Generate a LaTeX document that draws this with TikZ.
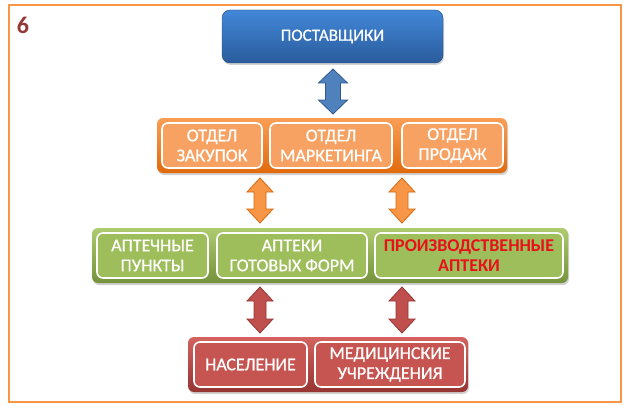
\documentclass[tikz,border=0pt]{standalone}
\usepackage{fontspec}
\setmainfont{Carlito}
\newfontfamily\boxfont{Carlito}[FakeBold=0.7]
\usetikzlibrary{shadows}
\definecolor{frameor}{HTML}{F79646}
\definecolor{numred}{HTML}{953735}
\definecolor{bluetop}{HTML}{4287D8}
\definecolor{bluebot}{HTML}{2A5C9C}
\definecolor{ortop}{HTML}{FA9E55}
\definecolor{orbot}{HTML}{E06A0C}
\definecolor{orin}{HTML}{F7A262}
\definecolor{grtop}{HTML}{AECB70}
\definecolor{grbot}{HTML}{76923C}
\definecolor{grin}{HTML}{9EBE5C}
\definecolor{rdtop}{HTML}{D4625E}
\definecolor{rdbot}{HTML}{963432}
\definecolor{rdin}{HTML}{C65552}
\definecolor{arblue}{HTML}{4F81BD}
\definecolor{arblueb}{HTML}{2E5A8E}
\definecolor{aror}{HTML}{F79646}
\definecolor{arorb}{HTML}{D8680E}
\definecolor{arrd}{HTML}{C0504D}
\definecolor{arrdb}{HTML}{943634}
\definecolor{hot}{HTML}{E8101A}
\newcommand{\dblblock}[6]{%
  \filldraw[#1] (#2,#3) -- ({#2+#5},{#3+14}) -- ({#2+#6},{#3+14}) -- ({#2+#6},{#4-14})
   -- ({#2+#5},{#4-14}) -- (#2,#4) -- ({#2-#5},{#4-14}) -- ({#2-#6},{#4-14})
   -- ({#2-#6},{#3+14}) -- ({#2-#5},{#3+14}) -- cycle;}
\begin{document}
\begin{tikzpicture}[x=1pt,y=-1pt,
  bar/.style={rectangle, rounded corners=6pt, draw=none, inner sep=0pt,
    drop shadow={opacity=0.35, shadow xshift=1pt, shadow yshift=-2pt}},
  inbox/.style={rectangle, rounded corners=6pt, draw=white, line width=1.6pt,
    inner sep=0pt, align=center, text=white, font=\boxfont\fontsize{18}{20}\selectfont},
  topbox/.style={rectangle, rounded corners=8pt, draw=bluebot!80!black, line width=0.4pt,
    top color=bluetop, bottom color=bluebot, inner sep=0pt, text=white,
    font=\boxfont\fontsize{17}{20}\selectfont,
    drop shadow={opacity=0.35, shadow xshift=1pt, shadow yshift=-2pt}}]
\useasboundingbox (0,0) rectangle (624,412);
\fill[white] (0,0) rectangle (624,412);
\draw[frameor, line width=2pt] (9,5) rectangle (621,402);
\node[text=numred, font=\fontsize{24}{24}\selectfont\bfseries, anchor=center] (num) at (23,25) {6};

% suppliers
\node[topbox, minimum width=221pt, minimum height=53pt] (sup) at (332.5,36.5) {ПОСТАВЩИКИ};

% orange row
\node[bar, top color=ortop, bottom color=orbot, minimum width=350pt, minimum height=55pt] (obar) at (332,145.5) {};
\node[inbox, fill=orin, minimum width=100pt, minimum height=45pt] (zak) at (212,145.5) {ОТДЕЛ\\ЗАКУПОК};
\node[inbox, fill=orin, minimum width=122pt, minimum height=45pt] (mar) at (331,145.5) {ОТДЕЛ\\МАРКЕТИНГА};
\node[inbox, fill=orin, minimum width=101pt, minimum height=45pt] (pro) at (452.5,145.5) {ОТДЕЛ\\ПРОДАЖ};

% green row
\node[bar, top color=grtop, bottom color=grbot, minimum width=476pt, minimum height=55pt] (gbar) at (330,255.5) {};
\node[inbox, fill=grin, minimum width=111pt, minimum height=45pt] (apt) at (152.5,255.5) {АПТЕЧНЫЕ\\ПУНКТЫ};
\node[inbox, fill=grin, minimum width=150pt, minimum height=45pt] (gf) at (292,255.5) {АПТЕКИ\\ГОТОВЫХ ФОРМ};
\node[inbox, fill=grin, minimum width=188pt, minimum height=45pt, text=hot,
  font=\fontsize{18}{20}\selectfont\bfseries] (prd) at (469,255.5) {ПРОИЗВОДСТВЕННЫЕ\\АПТЕКИ};

% red row
\node[bar, top color=rdtop, bottom color=rdbot, minimum width=280pt, minimum height=55pt] (rbar) at (328,364.5) {};
\node[inbox, fill=rdin, minimum width=113pt, minimum height=45pt] (nas) at (250.5,364.5) {НАСЕЛЕНИЕ};
\node[inbox, fill=rdin, minimum width=150pt, minimum height=45pt] (med) at (390,364.5) {МЕДИЦИНСКИЕ\\УЧРЕЖДЕНИЯ};

% block arrows
\dblblock{fill=arblue, draw=arblueb, line width=0.8pt}{333}{69}{114}{14.5}{7.5}
\dblblock{fill=aror, draw=arorb, line width=0.8pt}{260}{178}{223}{13}{6}
\dblblock{fill=aror, draw=arorb, line width=0.8pt}{402}{178}{223}{13}{6}
\dblblock{fill=arrd, draw=arrdb, line width=0.8pt}{260}{287}{333}{13}{6}
\dblblock{fill=arrd, draw=arrdb, line width=0.8pt}{402}{287}{333}{13}{6}
\end{tikzpicture}
\end{document}
